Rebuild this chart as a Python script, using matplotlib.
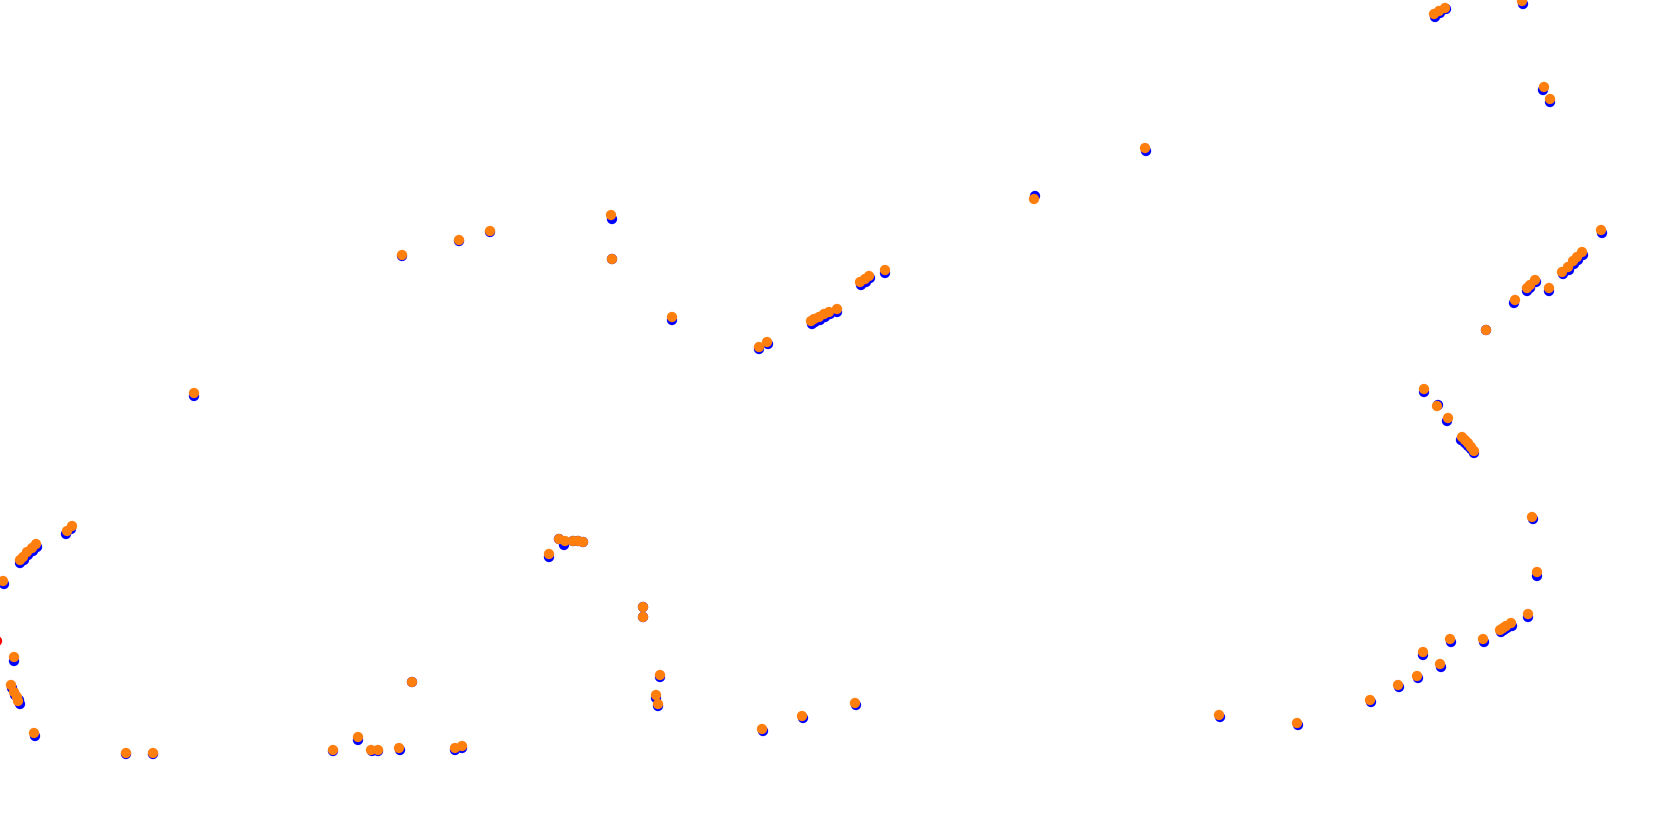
import matplotlib
matplotlib.use('Agg')
import matplotlib.pyplot as plt

# %% Data (positions, image-pixel units, y down)
orange_x = [1434, 1439, 1445, 1522, 1544, 1550,
            1145, 1034, 402, 459, 490, 611, 612, 672, 759, 767,
            811, 814, 819, 824, 829, 837, 860, 865, 869, 885,
            194,
            1601, 1582, 1577, 1573, 1568, 1562, 1535, 1530, 1527, 1549, 1515, 1486,
            1424, 1437, 1448, 1462, 1465, 1468, 1471, 1474,
            72, 67, 36, 32, 27, 23, 20, 3, 14, 11, 14, 17, 18, 34,
            559, 565, 573, 578, 583, 549,
            643, 643, 660, 656, 658,
            1532, 1537, 412,
            126, 153, 333, 358, 371, 378, 399, 455, 462,
            762, 802, 855,
            1219, 1297, 1370, 1398, 1417, 1423, 1440, 1450,
            1528, 1511, 1506, 1503, 1500, 1483]
orange_y = [14, 11, 8, 1, 87, 99,
            148, 199, 255, 240, 231, 215, 259, 317, 347, 342,
            321, 319, 317, 314, 312, 309, 282, 279, 276, 270,
            393,
            230, 252, 257, 261, 267, 272, 280, 285, 288, 288, 300, 330,
            389, 406, 418, 437, 440, 443, 447, 451,
            526, 531, 544, 548, 552, 557, 560, 581, 657, 685, 692, 697, 701, 733,
            539, 541, 541, 541, 542, 554,
            607, 617, 675, 695, 704,
            517, 572, 682,
            753, 753, 750, 737, 750, 750, 748, 748, 746,
            729, 716, 703,
            715, 723, 700, 685, 676, 652, 664, 639,
            614, 623, 626, 628, 630, 639]

blue_x = [1435, 1440, 1446, 1523, 1543, 1550,
          1146, 1035, 402, 459, 490, 612, 612, 672, 759, 768,
          812, 815, 820, 825, 830, 837, 861, 866, 870, 885,
          194,
          1602, 1583, 1578, 1574, 1569, 1563, 1536, 1530, 1527, 1549, 1514, 1486,
          1424, 1438, 1447, 1461, 1465, 1468, 1471, 1474,
          71, 66, 37, 33, 28, 24, 20, 4, 14, 12, 15, 19, 20, 35,
          559, 564, 573, 578, 583, 549,
          643, 643, 660, 656, 658,
          1533, 1537, 412,
          126, 153, 333, 358, 372, 378, 400, 455, 462,
          763, 803, 856,
          1220, 1298, 1371, 1399, 1418, 1423, 1441, 1451,
          1528, 1512, 1507, 1504, 1501, 1484]
blue_y = [17, 13, 9, 4, 90, 102,
          151, 196, 256, 241, 232, 219, 259, 320, 349, 344,
          324, 322, 320, 317, 314, 312, 285, 282, 278, 273,
          396,
          233, 255, 260, 264, 270, 274, 282, 288, 291, 291, 303, 330,
          392, 405, 421, 440, 443, 446, 449, 453,
          529, 534, 547, 551, 555, 560, 563, 584, 661, 688, 695, 700, 704, 736,
          539, 545, 541, 541, 542, 557,
          607, 617, 677, 698, 706,
          519, 576, 682,
          754, 754, 751, 740, 751, 751, 750, 750, 748,
          731, 718, 705,
          717, 725, 702, 687, 678, 655, 667, 642,
          617, 626, 628, 630, 632, 642]

red_x = [-3]
red_y = [641]

# %% Plot
fig = plt.figure(figsize=(16.8, 8.33), dpi=100)
ax = fig.add_axes([0, 0, 1, 1])
ax.scatter(blue_x, blue_y, s=55, color='#0000ff', edgecolors='none', zorder=2)
ax.scatter(orange_x, orange_y, s=55, color='#ff7f0e', edgecolors='none', zorder=3)
ax.scatter(red_x, red_y, s=55, color='#ff0000', edgecolors='none', zorder=2)
ax.set_xlim(0, 1680)
ax.set_ylim(833, 0)
ax.axis('off')
fig.savefig('out.png', dpi=100)
